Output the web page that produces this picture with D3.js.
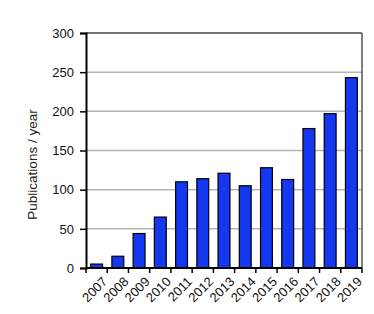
<!DOCTYPE html>
<html><head><meta charset="utf-8">
<script src="https://cdn.jsdelivr.net/npm/d3@7"></script>
<style>body{margin:0;background:#fff;}svg{display:block;font-family:"Liberation Sans",Arial,sans-serif;}</style>
</head><body><div id="chart"></div>
<script>
const years = ["2007","2008","2009","2010","2011","2012","2013","2014","2015","2016","2017","2018","2019"];
const publications = [5,15,44,65,110,114,121,105,128,113,178,197,243];
const yTicks = [0,50,100,150,200,250,300];
const yLabel = "Publications / year";

const W=374,H=314;
const m={left:86,right:12,top:33,bottom:46};
const svg=d3.select("#chart").append("svg").attr("width",W).attr("height",H);
const x=d3.scaleBand().domain(years).range([m.left,W-m.right]).paddingInner(0.44).paddingOuter(0.22);
const y=d3.scaleLinear().domain([0,300]).range([H-m.bottom,m.top]);
const pw=W-m.right-m.left;

// gridlines
svg.append("g").selectAll("line").data(yTicks.filter(d=>d>0&&d<300)).join("line")
 .attr("x1",m.left).attr("x2",W-m.right).attr("y1",d=>y(d)).attr("y2",d=>y(d))
 .attr("stroke","#b4b4b4").attr("stroke-width",1.5);

// box top/right
svg.append("line").attr("x1",m.left).attr("x2",W-m.right).attr("y1",y(300)).attr("y2",y(300)).attr("stroke","#444").attr("stroke-width",1.5);
svg.append("line").attr("x1",W-m.right).attr("x2",W-m.right).attr("y1",y(300)).attr("y2",y(0)).attr("stroke","#555").attr("stroke-width",1.5);

// bars
svg.append("g").selectAll("rect").data(years).join("rect")
 .attr("x",d=>x(d)).attr("width",x.bandwidth())
 .attr("y",(d,i)=>y(publications[i])).attr("height",(d,i)=>y(0)-y(publications[i]))
 .attr("fill","#1437f0").attr("stroke","#000").attr("stroke-width",1.2);

// y axis
const ya=svg.append("g").attr("transform",`translate(${m.left},0)`)
 .call(d3.axisLeft(y).tickValues(yTicks).tickSize(6).tickPadding(6));
ya.select(".domain").attr("stroke","#000").attr("stroke-width",2);
ya.selectAll(".tick line").attr("stroke","#000").attr("stroke-width",1.5);
ya.selectAll("text").attr("font-size",13).attr("fill","#111");

// x axis
const bounds=d3.range(years.length+1).map(i=>m.left+i*(pw/years.length));
const xa=svg.append("g").attr("transform",`translate(0,${y(0)})`);
xa.append("line").attr("x1",m.left).attr("x2",W-m.right).attr("stroke","#000").attr("stroke-width",2);
xa.selectAll("line.t").data(bounds).join("line").attr("class","t")
 .attr("x1",d=>d).attr("x2",d=>d).attr("y1",0).attr("y2",5).attr("stroke","#000").attr("stroke-width",1.5);
xa.selectAll("text").data(years).join("text")
 .attr("transform",d=>`translate(${x(d)+x.bandwidth()/2+5},${8}) rotate(-45)`)
 .attr("text-anchor","end").attr("dy","0.7em").attr("font-size",13).attr("fill","#111").text(d=>d);

svg.append("text").attr("transform",`translate(37,${(y(0)+y(300))/2+14}) rotate(-90)`)
 .attr("text-anchor","middle").attr("font-size",13.5).attr("fill","#222").text(yLabel);
</script></body></html>
